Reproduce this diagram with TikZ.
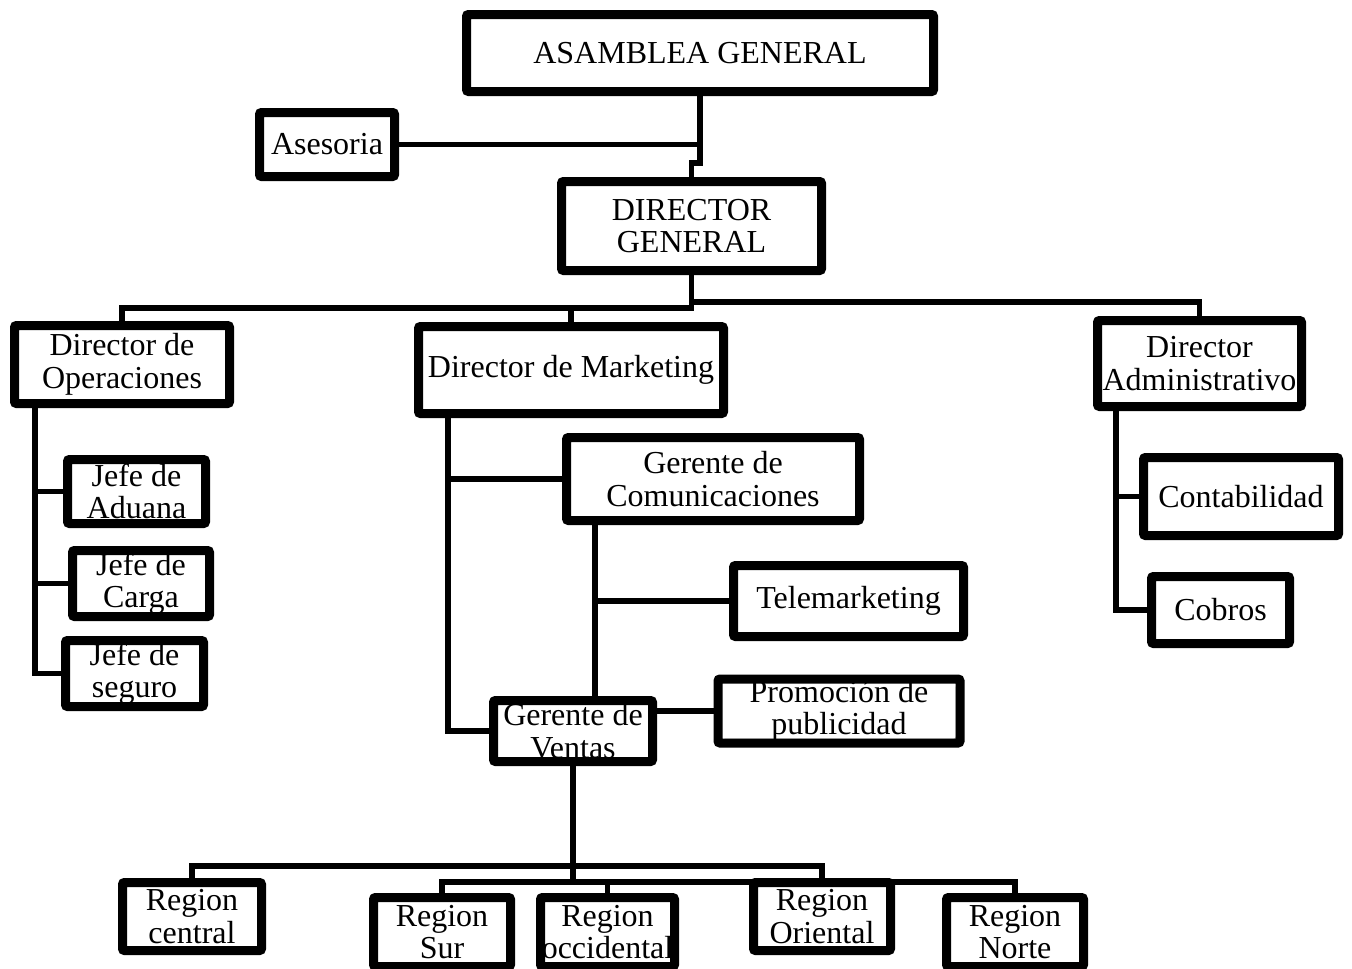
\documentclass[tikz,border=0pt]{standalone}
\usepackage{fontspec}
\setmainfont{Liberation Serif}
\usetikzlibrary{shadows}
\pgfdeclarelayer{bg}
\pgfsetlayers{bg,main}
\begin{document}
\begin{tikzpicture}[x=1pt,y=-1pt,
  txt/.style={align=center, inner sep=0pt, font=\fontsize{32}{32.5}\selectfont},
  box/.style={txt, draw, line width=9pt, fill=white, rounded corners=2pt,
    drop shadow={shadow xshift=2pt, shadow yshift=-3pt, opacity=0.3, fill=black}},
  link/.style={line width=5.5pt, line cap=rect}]
\useasboundingbox (0,0) rectangle (1352,969);
% nodes
\node[box, minimum width=467pt, minimum height=77pt] (asam) at (700,53) {ASAMBLEA GENERAL};
\node[box, minimum width=135pt, minimum height=64pt] (ases) at (327,144.5) {Asesoria};
\node[box, minimum width=260pt, minimum height=89pt] (dg) at (691.5,226) {DIRECTOR\\GENERAL};
\node[box, minimum width=215pt, minimum height=78pt] (dop) at (122,364.5) {Director de\\Operaciones};
\node[box, minimum width=305pt, minimum height=87pt] (dmk) at (571,370) {Director de Marketing};
\node[box, minimum width=204pt, minimum height=86pt] (dadm) at (1199.5,363.5) {Director\\Administrativo};
\node[box, minimum width=138pt, minimum height=64pt] (adu) at (136.5,491.5) {Jefe de\\Aduana};
\node[box, minimum width=137pt, minimum height=66pt] (car) at (141,583.5) {Jefe de\\Carga};
\node[box, minimum width=138pt, minimum height=66pt] (seg) at (134.5,673.5) {Jefe de\\seguro};
\node[box, minimum width=293pt, minimum height=83pt] (gcom) at (713,479) {Gerente de\\Comunicaciones};
\node[box, minimum width=230pt, minimum height=71pt] (tele) at (848.5,601) {Telemarketing};
\node[box, draw=none, minimum width=233pt, minimum height=55pt] (promo) at (839,711) {};
\node[txt] (promotxt) at (promo.center) {Promoción de\\publicidad};
\draw[line width=9pt, rounded corners=2pt] (promo.north west) rectangle (promo.south east);
\node[box, minimum width=159pt, minimum height=61pt] (gv) at (573,731) {Gerente de\\Ventas};
\node[box, minimum width=195pt, minimum height=78pt] (cont) at (1241,496.5) {Contabilidad};
\node[box, minimum width=138pt, minimum height=67pt] (cob) at (1220.5,610) {Cobros};
\node[box, minimum width=139pt, minimum height=68pt] (rc) at (192,916.5) {Region\\central};
\node[box, minimum width=137pt, minimum height=69pt] (rs) at (442,932) {Region\\Sur};
\node[box, minimum width=134pt, minimum height=69pt] (ro) at (607.5,932) {Region\\occidental};
\node[box, minimum width=137pt, minimum height=68pt] (ror) at (822,916.5) {Region\\Oriental};
\node[box, minimum width=137pt, minimum height=69pt] (rn) at (1015,932) {Region\\Norte};
% helper coordinates
\coordinate (j1) at (0,163);
\coordinate (L1) at (0,308);
\coordinate (L2) at (0,302);
\coordinate (ox) at (35,0);
\coordinate (mx) at (448,0);
\coordinate (cx) at (595,0);
\coordinate (ax) at (1116,0);
\coordinate (L3) at (0,866);
\coordinate (L4) at (0,882);
\begin{pgfonlayer}{bg}
\fill[white] (0,0) rectangle (1352,969);
\draw[link] (asam.south) -- (asam.south |- j1) -| (dg.north);
\draw[link] (ases.east) -- (asam.south |- ases.east);
\draw[link] (dg.south) |- (dop.north |- L1) -- (dop.north);
\draw[link] (dmk.north |- L1) -- (dmk.north);
\draw[link] (dg.south |- L2) -| (dadm.north);
\draw[link] (ox |- dop.south) |- (seg.west);
\draw[link] (ox |- adu.west) -- (adu.west);
\draw[link] (ox |- car.west) -- (car.west);
\draw[link] (mx |- dmk.south) |- (gv.west);
\draw[link] (mx |- gcom.west) -- (gcom.west);
\draw[link] (cx |- gcom.south) -- (cx |- gv.north);
\draw[link] (cx |- tele.west) -- (tele.west);
\draw[link] (gv.east |- promo.west) -- (promo.west);
\draw[link] (gv.south) -- (gv.south |- L4);
\draw[link] (rc.north) |- (ror.north |- L3) -- (ror.north);
\draw[link] (rs.north) |- (rn.north |- L4) -- (rn.north);
\draw[link] (ro.north |- L4) -- (ro.north);
\draw[link] (ax |- dadm.south) |- (cob.west);
\draw[link] (ax |- cont.west) -- (cont.west);
\end{pgfonlayer}
\end{tikzpicture}
\end{document}
